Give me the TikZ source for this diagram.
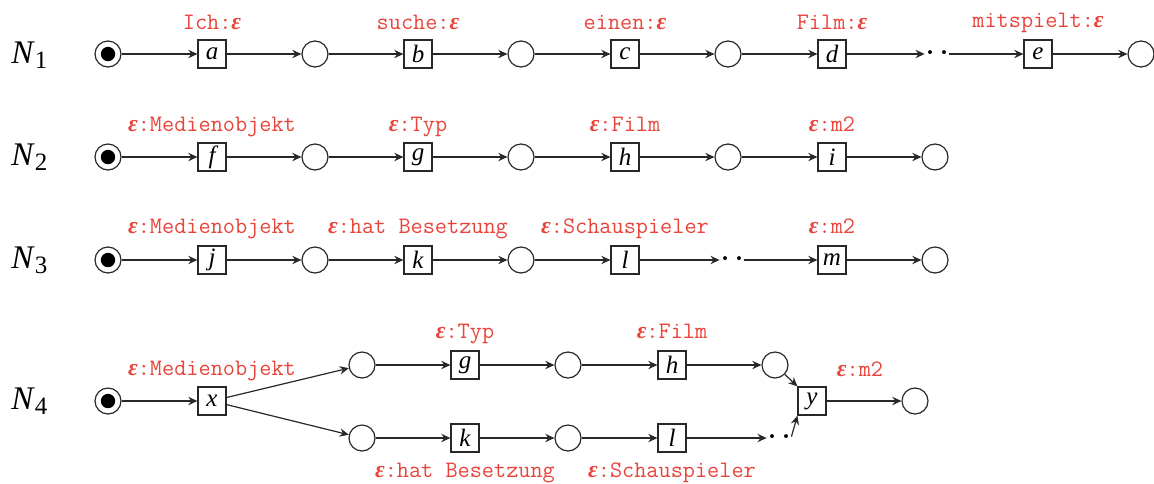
\documentclass[tikz,border=0pt]{standalone}
\usepackage{fontspec}
\setmainfont{Liberation Serif}
\usetikzlibrary{arrows.meta}
\definecolor{lblred}{RGB}{232,68,58}
\definecolor{ink}{RGB}{40,40,40}
\newcommand\eps{{\rmfamily\bfseries\itshape ε}}
\newcommand\netname[1]{\fontsize{16.5}{17}\selectfont\rmfamily\textit{N}\raisebox{-0.16em}{\fontsize{12.5}{13}\selectfont #1}}
\tikzset{
 place/.style={circle,draw=ink,line width=0.6pt,minimum size=13pt,inner sep=0},
 start/.style={place,path picture={\fill[black] (path picture bounding box.center) circle (3.6pt);}},
 trans/.style={rectangle,draw=ink,line width=0.6pt,minimum size=14pt,inner sep=0,font=\fontsize{12.5}{12.5}\selectfont\rmfamily\itshape},
 lab/.style={anchor=base,text=lblred,inner sep=0,font=\fontsize{11.8}{12}\selectfont\ttfamily},
 arc/.style={-{Stealth[length=4.6pt,width=4.2pt,inset=1.6pt]},line width=0.6pt,draw=ink},
 dotsn/.style={inner sep=0,minimum width=12pt,text height=0pt,text depth=0pt,font=\fontsize{12}{12}\selectfont\rmfamily\bfseries},
 netlab/.style={inner sep=0,anchor=base west}
}
\begin{document}
\begin{tikzpicture}[x=0.5pt,y=-0.5pt]
\useasboundingbox (0,0) rectangle (1154,483);
% names
\node[netlab] (n1) at (11,63) {\netname{1}};
\node[netlab] (n2) at (11,165) {\netname{2}};
\node[netlab] (n3) at (11,268) {\netname{3}};
\node[netlab] (n4) at (11,409) {\netname{4}};
% ---------- N1
\node[start] (s1) at (108,54) {};
\node[trans] (a) at (212,54) {a};
\node[place] (p11) at (315,54) {};
\node[trans] (b) at (418,54) {b};
\node[place] (p12) at (521,54) {};
\node[trans] (c) at (625,54) {c};
\node[place] (p13) at (728,54) {};
\node[trans] (d) at (832,54) {d};
\node[dotsn] (dA) at (937,54) {\raisebox{-0.28em}{·\kern3pt·}};
\node[trans] (e) at (1038,54) {e};
\node[place] (p14) at (1141,54) {};
\draw[arc] (s1) -- (a);
\draw[arc] (a) -- (p11);
\draw[arc] (p11) -- (b);
\draw[arc] (b) -- (p12);
\draw[arc] (p12) -- (c);
\draw[arc] (c) -- (p13);
\draw[arc] (p13) -- (d);
\draw[arc] (d) -- (dA);
\draw[arc] (dA) -- (e);
\draw[arc] (e) -- (p14);
\node[lab] (la) at ([yshift=12.5pt]a.center) {Ich:\eps};
\node[lab] (lb) at ([yshift=12.5pt]b.center) {suche:\eps};
\node[lab] (lc) at ([yshift=12.5pt]c.center) {einen:\eps};
\node[lab] (ld) at ([yshift=12.5pt]d.center) {Film:\eps};
\node[lab] (le) at ([yshift=13.5pt]e.center) {mitspielt:\eps};
% ---------- N2
\node[start] (s2) at (108,157) {};
\node[trans] (f) at (212,157) {f};
\node[place] (p21) at (315,157) {};
\node[trans] (g) at (418,157) {g};
\node[place] (p22) at (521,157) {};
\node[trans] (h) at (625,157) {h};
\node[place] (p23) at (728,157) {};
\node[trans] (i) at (832,157) {i};
\node[place] (p24) at (935,157) {};
\draw[arc] (s2) -- (f);
\draw[arc] (f) -- (p21);
\draw[arc] (p21) -- (g);
\draw[arc] (g) -- (p22);
\draw[arc] (p22) -- (h);
\draw[arc] (h) -- (p23);
\draw[arc] (p23) -- (i);
\draw[arc] (i) -- (p24);
\node[lab] (lf) at ([yshift=13pt]f.center) {\eps:Medienobjekt};
\node[lab] (lg) at ([yshift=13pt]g.center) {\eps:Typ};
\node[lab] (lh) at ([yshift=13pt]h.center) {\eps:Film};
\node[lab] (li) at ([yshift=13pt]i.center) {\eps:m2};
% ---------- N3
\node[start] (s3) at (108,260) {};
\node[trans] (j) at (212,260) {j};
\node[place] (p31) at (315,260) {};
\node[trans] (k) at (418,260) {k};
\node[place] (p32) at (521,260) {};
\node[trans] (l) at (625,260) {l};
\node[dotsn] (dB) at (732,260) {\raisebox{-0.28em}{·\kern3pt·}};
\node[trans] (m) at (832,260) {m};
\node[place] (p34) at (935,260) {};
\draw[arc] (s3) -- (j);
\draw[arc] (j) -- (p31);
\draw[arc] (p31) -- (k);
\draw[arc] (k) -- (p32);
\draw[arc] (p32) -- (l);
\draw[arc] (l) -- (dB);
\draw[arc] (dB) -- (m);
\draw[arc] (m) -- (p34);
\node[lab] (lj) at ([yshift=13.5pt]j.center) {\eps:Medienobjekt};
\node[lab] (lk) at ([yshift=13.5pt]k.center) {\eps:hat Besetzung};
\node[lab] (ll) at ([yshift=13.5pt]l.center) {\eps:Schauspieler};
\node[lab] (lm) at ([yshift=13.5pt]m.center) {\eps:m2};
% ---------- N4
\node[start] (s4) at (108,401) {};
\node[trans] (x) at (212,401) {x};
\node[place] (pu1) at (362,365) {};
\node[trans] (g4) at (465,365) {g};
\node[place] (pu2) at (568,365) {};
\node[trans] (h4) at (672,365) {h};
\node[place] (pu3) at (775,365) {};
\node[trans] (y) at (812,401) {y};
\node[place] (pf) at (915,401) {};
\node[place] (pl1) at (362,438) {};
\node[trans] (k4) at (465,438) {k};
\node[place] (pl2) at (568,438) {};
\node[trans] (l4) at (672,438) {l};
\node[dotsn] (dC) at (779,438) {\raisebox{-0.28em}{·\kern3pt·}};
\draw[arc] (s4) -- (x);
\draw[arc] (x) -- (pu1);
\draw[arc] (x) -- (pl1);
\draw[arc] (pu1) -- (g4);
\draw[arc] (g4) -- (pu2);
\draw[arc] (pu2) -- (h4);
\draw[arc] (h4) -- (pu3);
\draw[arc] (pu3) -- (y.north west);
\draw[arc] (pl1) -- (k4);
\draw[arc] (k4) -- (pl2);
\draw[arc] (pl2) -- (l4);
\draw[arc] (l4) -- (dC);
\draw[arc] (dC.north east) -- (y.south west);
\draw[arc] (y) -- (pf);
\node[lab] (lx) at ([yshift=13pt]x.center) {\eps:Medienobjekt};
\node[lab] (lg4) at ([yshift=13.5pt]g4.center) {\eps:Typ};
\node[lab] (lh4) at ([yshift=13.5pt]h4.center) {\eps:Film};
\node[lab] (ly) at ([xshift=24pt,yshift=12.5pt]y.center) {\eps:m2};
\node[lab] (lk4) at ([yshift=-19.5pt]k4.center) {\eps:hat Besetzung};
\node[lab] (ll4) at ([yshift=-19.5pt]l4.center) {\eps:Schauspieler};
\end{tikzpicture}
\end{document}
